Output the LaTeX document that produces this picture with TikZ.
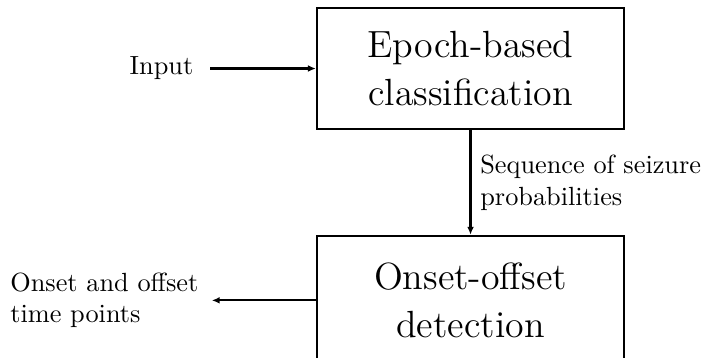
\documentclass[tikz,border=0pt]{standalone}
\usetikzlibrary{positioning,arrows.meta}
\begin{document}
\begin{tikzpicture}[
    block/.style={draw,line width=1pt,minimum width=4.10cm,align=center,font=\Large},
    flow/.style={thick,-{Latex[length=3pt,width=2.6pt]}}]
    \clip (0,0) rectangle (9.438,4.773);
    % blocs
    \node[block,minimum height=1.618cm] (epoch) at (6.29,3.857)
        {Epoch-based\\classification};
    \node[block,minimum height=1.72cm] (detect) at (6.29,0.758)
        {Onset-offset\\detection};
    % entree / sortie
    \node[left=1.514cm of epoch] (input) {Input};
    \node[left=1.447cm of detect,align=left] (output)
        {Onset and offset\\time points};
    \draw[flow,shorten <=3pt] (input) -- (epoch);
    \draw[flow] (epoch) -- (detect)
        node[midway,right,align=left] (proba) {Sequence of seizure\\probabilities};
    \draw[flow,shorten >=1.6pt] (detect) -- (output);
\end{tikzpicture}
\end{document}
